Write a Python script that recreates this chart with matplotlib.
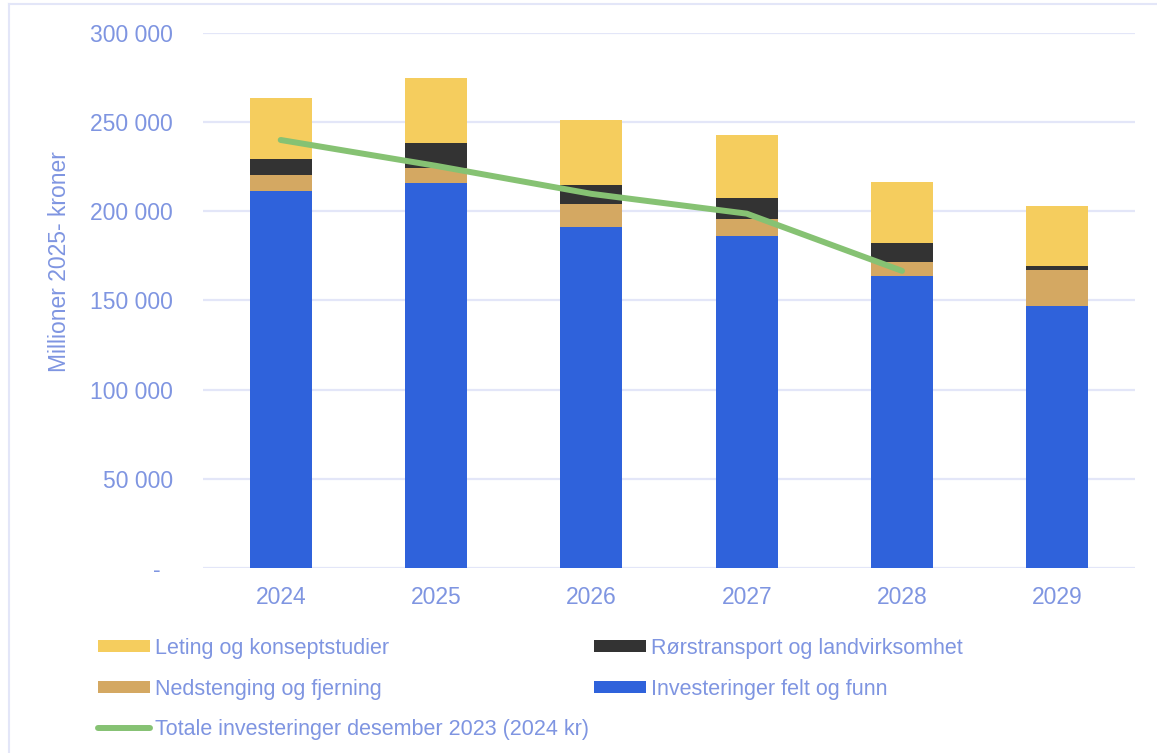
import matplotlib
matplotlib.use("Agg")
from matplotlib import pyplot as plt
from matplotlib.lines import Line2D
from matplotlib.patches import Patch
from matplotlib.transforms import ScaledTranslation
import numpy as np

plt.rcParams['font.family'] = ['Liberation Sans', 'DejaVu Sans']

# Investeringer per år, millioner 2025-kroner
years = ["2024", "2025", "2026", "2027", "2028", "2029"]
felt_og_funn = [211500, 215700, 191200, 186200, 163800, 147000]
nedstenging = [9000, 8800, 13100, 9700, 8000, 20000]
rortransport = [8800, 13600, 10600, 11800, 10300, 2200]
leting = [34100, 36800, 36100, 35000, 34100, 33600]

# Totale investeringer fra desember 2023 (2024 kr), 2024-2028
line_years = ["2024", "2025", "2026", "2027", "2028"]
totale_2023 = [240000, 225500, 209800, 198700, 166600]

yticks = [0, 50000, 100000, 150000, 200000, 250000, 300000]

text_col = "#7F95E1"
grid_col = "#E3E6F8"
c_leting = "#F5CD5E"
c_ror = "#333333"
c_ned = "#D4A862"
c_felt = "#2F62DB"
c_line = "#86C273"

fig = plt.figure(figsize=(11.57, 7.53), dpi=100)
ax = fig.add_axes([0.1755, 0.2457, 0.8055, 0.7105])

x = np.arange(len(years))
w = 0.4
b1 = np.array(felt_og_funn)
b2 = b1 + np.array(nedstenging)
b3 = b2 + np.array(rortransport)
ax.bar(x, felt_og_funn, w, color=c_felt, zorder=2)
ax.bar(x, nedstenging, w, bottom=b1, color=c_ned, zorder=2)
ax.bar(x, rortransport, w, bottom=b2, color=c_ror, zorder=2)
ax.bar(x, leting, w, bottom=b3, color=c_leting, zorder=2)

lx = [years.index(y) for y in line_years]
ax.plot(lx, totale_2023, color=c_line, lw=4.3, solid_capstyle="round",
        solid_joinstyle="round", zorder=3)

ax.set_xlim(-0.5, len(years) - 0.5)
ax.set_ylim(0, 300000)
ax.set_xticks(x)
ax.set_xticklabels(years)
ax.set_yticks(yticks)
ax.set_yticklabels(["-" if v == 0 else f"{v:,.0f}".replace(",", " ") for v in yticks])
ax.tick_params(axis="both", length=0, colors=text_col, labelsize=16.5)
ax.tick_params(axis="y", pad=21.5)
ax.tick_params(axis="x", pad=13)
ax.grid(axis="y", color=grid_col, lw=1.6, zorder=0)
ax.set_axisbelow(True)
for s in ax.spines.values():
    s.set_visible(False)

# the "-" for zero sits a bit further left
zero_lbl = ax.get_yticklabels()[0]
zero_lbl.set_transform(zero_lbl.get_transform() + ScaledTranslation(-0.13, 0, fig.dpi_scale_trans))

ax.set_ylabel("Millioner 2025- kroner", color=text_col, fontsize=16.5)
ax.yaxis.set_label_coords(-0.142, 0.572)

handles = [
    Patch(facecolor=c_leting),
    Patch(facecolor=c_ned),
    Line2D([], [], color=c_line, lw=4.3, solid_capstyle="round"),
    Patch(facecolor=c_ror),
    Patch(facecolor=c_felt),
]
labels = [
    "Leting og konseptstudier",
    "Nedstenging og fjerning",
    "Totale investeringer desember 2023 (2024 kr)",
    "Rørstransport og landvirksomhet",
    "Investeringer felt og funn",
]
leg = fig.legend(handles, labels, loc="upper left", bbox_to_anchor=(0.0847, 0.1527),
                 ncol=2, frameon=False, fontsize=15.5, handlelength=2.42,
                 handleheight=0.47, handletextpad=0.23, labelspacing=0.91,
                 columnspacing=0.23, borderpad=0, borderaxespad=0)
for t in leg.get_texts():
    t.set_color(text_col)

# thin frame along the top and left edge of the figure
fig.add_artist(Line2D([8.5 / 1157, 8.5 / 1157], [0, 1 - 3.5 / 753], color=grid_col, lw=1.5))
fig.add_artist(Line2D([8.5 / 1157, 1], [1 - 3.5 / 753, 1 - 3.5 / 753], color=grid_col, lw=1.5))

fig.savefig("out.png", dpi=100)
